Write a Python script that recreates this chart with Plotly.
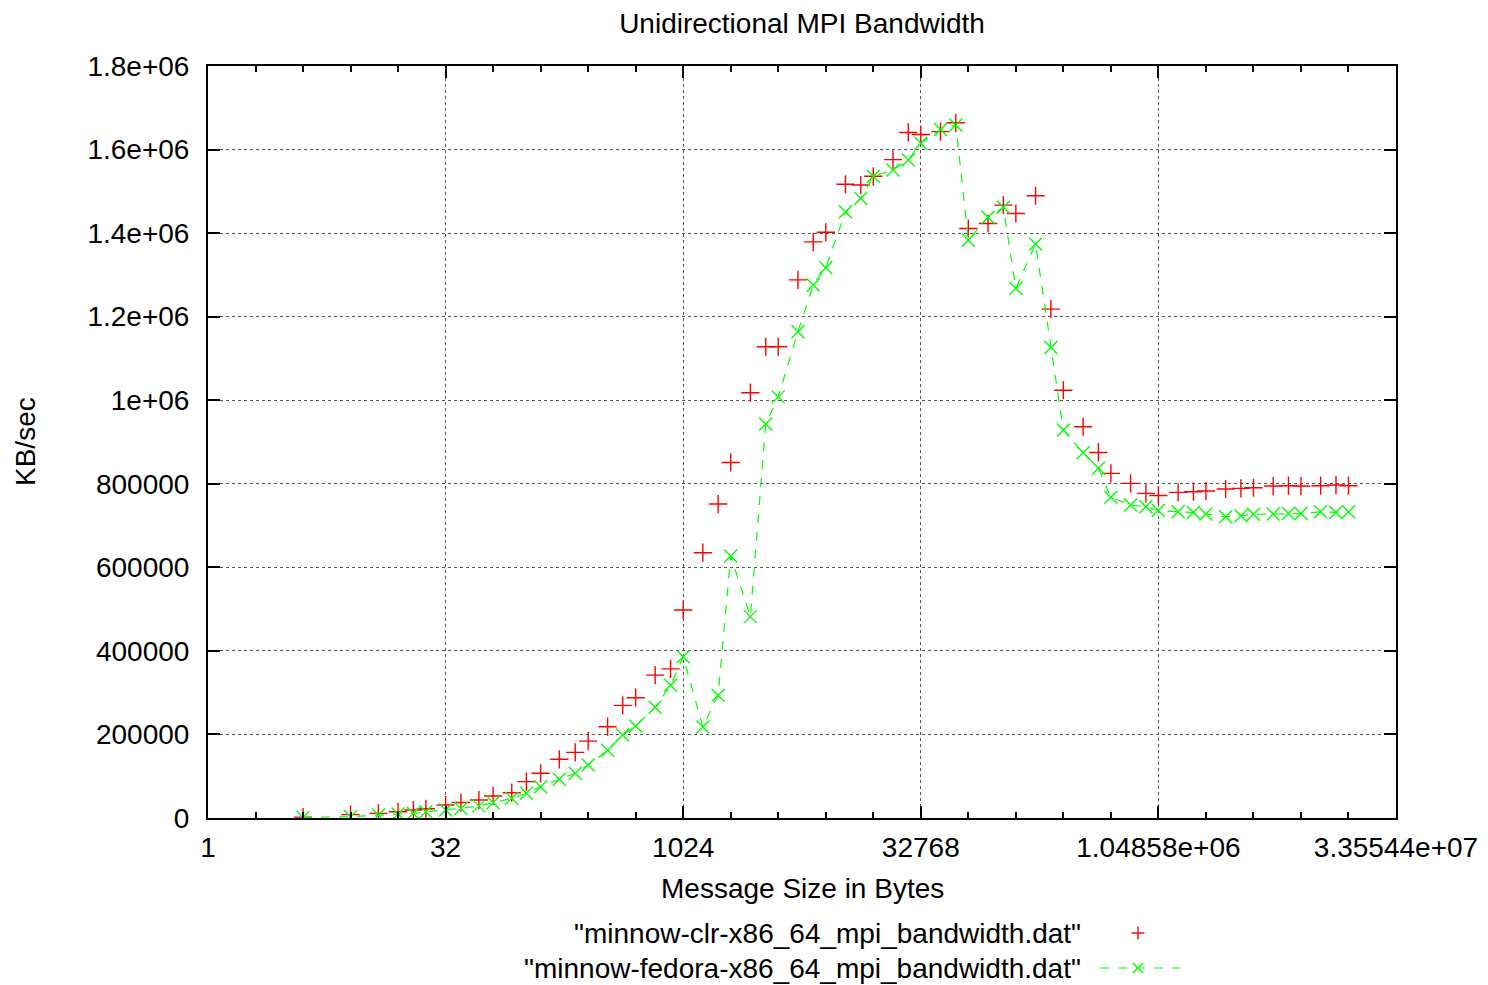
import plotly.graph_objects as go

# ---- data ----
msg_size = [4, 8, 12, 16, 20, 24, 32, 40, 52, 64, 84, 104, 128, 168, 212, 256, 340, 424,
            512, 680, 852, 1024, 1364, 1704, 2048, 2728, 3412, 4096, 5460, 6824,
            8192, 10920, 13652, 16384, 21844, 27304, 32768, 43688, 54612,
            65536, 87380, 109224, 131072, 174760, 218452, 262144, 349524, 436904,
            524288, 699048, 873812, 1048576, 1398100, 1747624, 2097152, 2796200, 3495252,
            4194304, 5592404, 6990504, 8388608, 11184808, 13981012, 16777216]

clr_bw = [2000, 8000, 11000, 15000, 19000, 22000, 31000, 37000, 43000, 52600, 60600, 87000,
          107000, 140500, 157000, 184000, 218500, 269700, 288000, 342000, 357000,
          498000, 635000, 751500, 851000, 1018000, 1128000, 1128000, 1288000, 1379000,
          1402000, 1517000, 1515000, 1536000, 1576000, 1641000, 1636000, 1643000, 1664000,
          1411000, 1423000, 1467000, 1447000, 1489500, 1218000, 1024000, 936600, 875000,
          825000, 801000, 777000, 772000, 779500, 781000, 782600, 787500, 789000,
          790500, 794600, 795400, 794600, 795400, 797000, 795400]

fedora_bw = [1500, 3000, 7000, 9600, 11000, 15000, 19000, 23000, 29000, 36600, 47000, 59000,
             75000, 92600, 107000, 127000, 162000, 198600, 220000, 265000, 318000,
             386000, 218000, 294000, 627000, 482000, 943000, 1008000, 1164000, 1276000,
             1317000, 1451000, 1483000, 1536000, 1551000, 1575000, 1615000, 1648000, 1659000,
             1383000, 1438000, 1462000, 1268000, 1374000, 1126000, 928500, 874000, 837000,
             767500, 749000, 745000, 736000, 733000, 731500, 727600, 721000, 723600,
             727000, 727600, 729000, 729000, 733000, 731500, 733000]

x_tick_vals = [1, 32, 1024, 32768, 1048576, 33554432]
x_tick_text = ["1", "32", "1024", "32768", "1.04858e+06", "3.35544e+07"]
x_minor_vals = [2 ** k for k in range(0, 26)]
y_tick_vals = [0, 200000, 400000, 600000, 800000, 1000000, 1200000, 1400000, 1600000, 1800000]
y_tick_text = ["0", "200000", "400000", "600000", "800000", "1e+06", "1.2e+06",
               "1.4e+06", "1.6e+06", "1.8e+06"]

series_names = ['"minnow-clr-x86_64_mpi_bandwidth.dat"',
                '"minnow-fedora-x86_64_mpi_bandwidth.dat"']

# ---- styling ----
W, H = 1488, 985
ML, MR, MT, MB = 208, 92, 66, 167
PW, PH = W - ML - MR, H - MT - MB
FONT = "Liberation Sans, Arial, Helvetica, sans-serif"
FS = 28
RED = "#ff0000"
GREEN = "#00ff00"


def px2paper(px, py):
    return (px - ML) / PW, (H - MB - py) / PH


fig = go.Figure()
fig.add_trace(go.Scatter(
    x=msg_size, y=clr_bw, mode="markers", name=series_names[0],
    marker=dict(symbol="cross-thin", size=13, line=dict(color=RED, width=1.4)),
))
fig.add_trace(go.Scatter(
    x=msg_size, y=fedora_bw, mode="lines+markers", name=series_names[1],
    line=dict(color=GREEN, width=1.2, dash="dash"),
    marker=dict(symbol="x-thin", size=13, line=dict(color=GREEN, width=1.4)),
))

axis_common = dict(
    showline=True, linecolor="black", linewidth=2, mirror="allticks",
    ticks="inside", ticklen=12, tickwidth=1.5, tickcolor="black",
    showgrid=True, gridcolor="#555555", gridwidth=1, griddash="dot",
    zeroline=False,
    tickfont=dict(family=FONT, size=FS, color="black"),
)

fig.update_xaxes(
    type="log", range=[0, 7.525749891599529],
    tickmode="array", tickvals=x_tick_vals, ticktext=x_tick_text,
    minor=dict(tickmode="array", tickvals=x_minor_vals, ticks="inside", ticklen=6,
               tickwidth=1.5, tickcolor="black", showgrid=False),
    ticklabelstandoff=3,
    **axis_common,
)
fig.update_yaxes(
    range=[0, 1800000],
    tickmode="array", tickvals=y_tick_vals, ticktext=y_tick_text,
    ticklabelstandoff=11,
    **axis_common,
)

# axis titles
xt_x, xt_y = px2paper(802, 888)
yt_x, yt_y = px2paper(25, 442)
annotations = [
    dict(text="Message Size in Bytes", x=0.5, y=xt_y, xref="paper", yref="paper",
         xanchor="center", yanchor="middle", showarrow=False,
         font=dict(family=FONT, size=FS, color="black")),
    dict(text="KB/sec", x=yt_x, y=yt_y, xref="paper", yref="paper", textangle=-90,
         xanchor="center", yanchor="middle", showarrow=False,
         font=dict(family=FONT, size=FS, color="black")),
]

# gnuplot-style key: text right-aligned, sample on the right
shapes = []
key_rows = [933, 968]
tx, _ = px2paper(1082, 0)
for name, row in zip(series_names, key_rows):
    _, ty = px2paper(0, row)
    annotations.append(dict(text=name, x=tx, y=ty, xref="paper", yref="paper",
                            xanchor="right", yanchor="middle", showarrow=False,
                            borderpad=0,
                            font=dict(family=FONT, size=FS, color="black")))

# red "+" sample
cx, cy = 1138, key_rows[0]
s = 6.5
a = px2paper(cx - s, cy); b = px2paper(cx + s, cy)
shapes.append(dict(type="line", xref="paper", yref="paper", x0=a[0], y0=a[1], x1=b[0], y1=b[1],
                   line=dict(color=RED, width=1.4)))
a = px2paper(cx, cy - s); b = px2paper(cx, cy + s)
shapes.append(dict(type="line", xref="paper", yref="paper", x0=a[0], y0=a[1], x1=b[0], y1=b[1],
                   line=dict(color=RED, width=1.4)))

# green dashed line + "x" sample
cy = key_rows[1]
a = px2paper(1100, cy); b = px2paper(1180, cy)
shapes.append(dict(type="line", xref="paper", yref="paper", x0=a[0], y0=a[1], x1=b[0], y1=b[1],
                   line=dict(color=GREEN, width=1.2, dash="dash")))
s = 5
a = px2paper(cx - s, cy - s); b = px2paper(cx + s, cy + s)
shapes.append(dict(type="line", xref="paper", yref="paper", x0=a[0], y0=a[1], x1=b[0], y1=b[1],
                   line=dict(color=GREEN, width=1.4)))
a = px2paper(cx - s, cy + s); b = px2paper(cx + s, cy - s)
shapes.append(dict(type="line", xref="paper", yref="paper", x0=a[0], y0=a[1], x1=b[0], y1=b[1],
                   line=dict(color=GREEN, width=1.4)))

fig.update_layout(
    width=W, height=H,
    margin=dict(l=ML, r=MR, t=MT, b=MB, autoexpand=False),
    paper_bgcolor="white", plot_bgcolor="white",
    showlegend=False,
    title=dict(text="Unidirectional MPI Bandwidth", x=(ML + PW / 2) / W, xanchor="center",
               y=1 - 23 / H, yanchor="middle", yref="container",
               font=dict(family=FONT, size=FS, color="black")),
    annotations=annotations,
    shapes=shapes,
)

fig.write_html("out.html")
